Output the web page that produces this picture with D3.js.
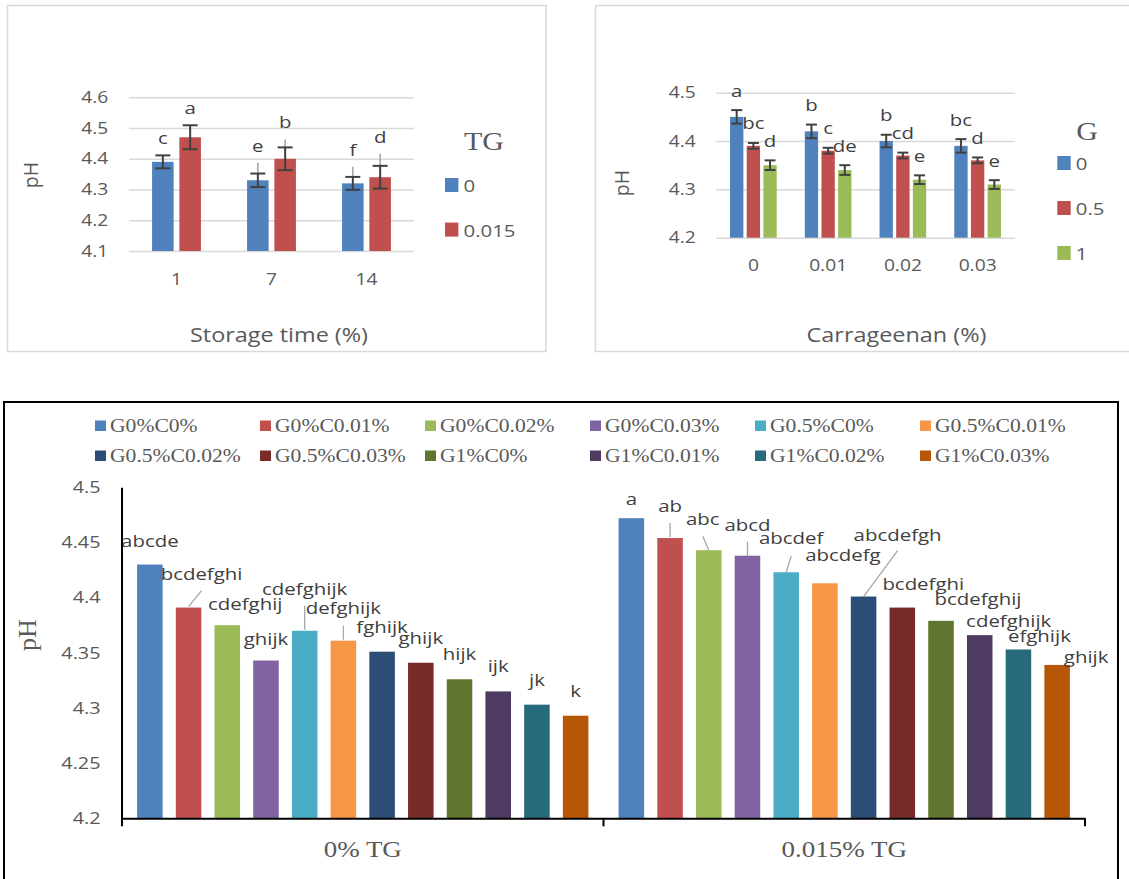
<!DOCTYPE html>
<html>
<head>
<meta charset="utf-8">
<script src="https://cdn.jsdelivr.net/npm/d3@7"></script>
<style>
  body { margin: 0; background: #fff; }
  svg { display: block; }
</style>
</head>
<body>
<svg id="fig"></svg>
<script>
// ---- top left: TG level by storage time
var days = ["1", "7", "14"];
var tgLevels = ["0", "0.015"];
var phTG0 = [4.39, 4.33, 4.32];
var phTG015 = [4.47, 4.40, 4.34];
var errTG0 = [0.021, 0.022, 0.021];
var errTG015 = [0.039, 0.037, 0.037];
var reachTG0 = [0.021, 0.057, 0.054];    // faint upper whisker
var reachTG015 = [0.039, 0.063, 0.076];
var letTG0 = ["c", "e", "f"];
var letTG015 = ["a", "b", "d"];
var ticksTL = [4.1, 4.2, 4.3, 4.4, 4.5, 4.6];

// ---- top right: G level by carrageenan
var carr = ["0", "0.01", "0.02", "0.03"];
var gLevels = ["0", "0.5", "1"];
var phG0 = [4.45, 4.42, 4.40, 4.39];
var phG05 = [4.39, 4.38, 4.37, 4.36];
var phG1 = [4.35, 4.34, 4.32, 4.31];
var errG0 = [0.014, 0.014, 0.013, 0.014];
var errG05 = [0.006, 0.006, 0.006, 0.006];
var errG1 = [0.010, 0.010, 0.009, 0.009];
var letG0 = ["a", "b", "b", "bc"];
var letG05 = ["bc", "c", "cd", "d"];
var letG1 = ["d", "de", "e", "e"];
var ticksTR = [4.2, 4.3, 4.4, 4.5];

// ---- bottom: all treatments
var treatments = ["G0%C0%", "G0%C0.01%", "G0%C0.02%", "G0%C0.03%", "G0.5%C0%", "G0.5%C0.01%",
                  "G0.5%C0.02%", "G0.5%C0.03%", "G1%C0%", "G1%C0.01%", "G1%C0.02%", "G1%C0.03%"];
var tgGroups = ["0% TG", "0.015% TG"];
var ph0 = [4.430, 4.391, 4.375, 4.343, 4.370, 4.361, 4.351, 4.341, 4.326, 4.315, 4.303, 4.293];
var ph015 = [4.472, 4.454, 4.443, 4.438, 4.423, 4.413, 4.401, 4.391, 4.379, 4.366, 4.353, 4.339];
var let0 = ["abcde", "bcdefghi", "cdefghij", "ghijk", "cdefghijk", "defghijk",
            "fghijk", "ghijk", "hijk", "ijk", "jk", "k"];
var let015 = ["a", "ab", "abc", "abcd", "abcdef", "abcdefg",
              "abcdefgh", "bcdefghi", "bcdefghij", "cdefghijk", "efghijk", "ghijk"];
var ticksB = [4.2, 4.25, 4.3, 4.35, 4.4, 4.45, 4.5];

var office = ["#4F81BD", "#C0504D", "#9BBB59", "#8064A2", "#4BACC6", "#F79646",
              "#2C4D75", "#772C2A", "#5F7530", "#4D3B62", "#276A7C", "#B65708"];

// label nudges [dx, dy] and leader lines [x1, y1, x2, y2] relative to bar top centre
var nudge0 = [[0, 1], [13, -9], [18, 4], [0, 3], [0, -17], [0, -8], [0, 0], [0, 0], [0, 0], [0, 0], [0, 0], [0, 0]];
var nudge015 = [[0, 6], [0, -7], [-6, -6], [0, -6], [5, -9], [18, -3], [34, -37], [21, 1], [37, 3], [29, 11], [21, 12], [29, 17]];
var leader0 = { 1: [0, -1, 13, -17], 4: [0, -1, 0, -25], 5: [0, -1, 0, -15] };
var leader015 = { 1: [0, -1, 0, -15], 2: [0, 0, -6, -14], 3: [0, 0, 0, -14], 4: [0, 0, 5, -16], 6: [0, 0, 34, -46] };

var sans = "'Open Sans', sans-serif",
    serif = "'Liberation Serif', 'Times New Roman', serif",
    grey = "#595959",
    dark = "#404040";

var svg = d3.select("#fig")
    .attr("width", 1129)
    .attr("height", 879);

// panel frames
svg.append("rect").attr("x", 7.5).attr("y", 5.5).attr("width", 538.5).attr("height", 346)
    .attr("fill", "none").attr("stroke", "#d9d9d9").attr("stroke-width", 1.5);
svg.append("rect").attr("x", 595.5).attr("y", 5.5).attr("width", 560).attr("height", 346)
    .attr("fill", "none").attr("stroke", "#d9d9d9").attr("stroke-width", 1.5);
svg.append("rect").attr("x", 4).attr("y", 402).attr("width", 1114).attr("height", 490)
    .attr("fill", "none").attr("stroke", "#000").attr("stroke-width", 2);

// small grouped bar panel with error bars
function panel(p) {
  var g = svg.append("g");
  var x = d3.scaleBand().domain(p.cats).range(p.xr);
  var xi = d3.scaleBand()
      .domain(p.series.map(function(s) { return s.name; }))
      .range([0, x.bandwidth()])
      .paddingInner(p.pin)
      .paddingOuter(p.pout);
  var y = d3.scaleLinear().domain(p.yd).range(p.yr);

  // gridlines + tick labels
  var ya = g.append("g")
      .attr("transform", "translate(" + p.xr[0] + ",0)")
      .call(d3.axisLeft(y).tickValues(p.ticks).tickSize(-(p.xr[1] - p.xr[0]))
        .tickPadding(p.ypad).tickFormat(d3.format("")));
  ya.select(".domain").remove();
  ya.selectAll("line").attr("stroke", "#d9d9d9").attr("stroke-width", 1.5);
  ya.selectAll("text").style("font-family", sans).style("font-size", "16px").attr("fill", grey);

  var xa = g.append("g")
      .attr("transform", "translate(0," + p.yr[0] + ")")
      .call(d3.axisBottom(x).tickSize(0).tickPadding(p.xpad));
  xa.select(".domain").remove();
  xa.selectAll("text").style("font-family", sans).style("font-size", "16px").attr("fill", grey);

  p.series.forEach(function(s) {
    var sg = g.append("g");
    sg.selectAll("rect")
      .data(s.vals)
      .enter().append("rect")
        .attr("x", function(d, i) { return x(p.cats[i]) + xi(s.name); })
        .attr("y", function(d) { return y(d); })
        .attr("width", xi.bandwidth())
        .attr("height", function(d) { return y(p.yd[0]) - y(d); })
        .attr("fill", s.color);

    s.vals.forEach(function(v, i) {
      var cx = x(p.cats[i]) + xi(s.name) + xi.bandwidth() / 2,
          e = s.err[i],
          reach = s.reach ? s.reach[i] : e;
      if (reach > e) {
        sg.append("line").attr("x1", cx).attr("x2", cx)
          .attr("y1", y(v + e)).attr("y2", y(v + reach))
          .attr("stroke", "#a0a0a0").attr("stroke-width", 1.5);
      }
      sg.append("line").attr("x1", cx).attr("x2", cx)
        .attr("y1", y(v - e)).attr("y2", y(v + e))
        .attr("stroke", dark).attr("stroke-width", 2);
      [v - e, v + e].forEach(function(c) {
        sg.append("line").attr("x1", cx - p.cap / 2).attr("x2", cx + p.cap / 2)
          .attr("y1", y(c)).attr("y2", y(c))
          .attr("stroke", dark).attr("stroke-width", 2);
      });
      sg.append("text")
        .attr("x", cx)
        .attr("y", y(v + Math.max(e, reach)) - p.gap)
        .attr("text-anchor", "middle")
        .style("font-family", sans).style("font-size", "17px")
        .attr("fill", dark)
        .text(s.letters[i]);
    });
  });

  // legend
  g.append("text").attr("x", p.leg.x + 19).attr("y", p.leg.titleY)
    .style("font-family", serif).style("font-size", "25px").attr("fill", grey)
    .text(p.leg.title);
  p.series.forEach(function(s, j) {
    var yy = p.leg.y0 + j * p.leg.dy;
    g.append("rect").attr("x", p.leg.x).attr("y", yy).attr("width", 13.4).attr("height", 14)
      .attr("fill", s.color);
    g.append("text").attr("x", p.leg.x + 18.5).attr("y", yy + 14)
      .style("font-family", sans).style("font-size", "17px").attr("fill", grey)
      .text(s.name);
  });

  // axis titles
  g.append("text").attr("x", (p.xr[0] + p.xr[1]) / 2 + p.titleDx).attr("y", 341.5)
    .attr("text-anchor", "middle")
    .style("font-family", sans).style("font-size", "19.5px").attr("fill", grey)
    .text(p.xTitle);
  g.append("text").attr("class", "rot")
    .attr("transform", "translate(" + p.pHx + "," + p.pHy + ") rotate(-90)")
    .attr("text-anchor", "middle")
    .style("font-family", sans).style("font-size", "19.5px").attr("fill", grey)
    .text("pH");
}

panel({
  cats: days, xr: [129, 414], pin: 0.21, pout: 0.845,
  yd: [4.1, 4.6], yr: [251, 97.3], ticks: ticksTL, ypad: 20.7, xpad: 23,
  cap: 15, gap: 11,
  series: [
    { name: tgLevels[0], vals: phTG0, err: errTG0, reach: reachTG0, letters: letTG0, color: office[0] },
    { name: tgLevels[1], vals: phTG015, err: errTG015, reach: reachTG015, letters: letTG015, color: office[1] }
  ],
  leg: { title: "TG", x: 445, titleY: 150, y0: 178, dy: 44.6 },
  xTitle: "Storage time (%)", titleDx: 7.5, pHx: 38, pHy: 175
});

panel({
  cats: carr, xr: [716, 1015], pin: 0.2, pout: 0.842,
  yd: [4.2, 4.5], yr: [237.7, 92.7], ticks: ticksTR, ypad: 20.3, xpad: 21.6,
  cap: 11, gap: 13.5,
  series: [
    { name: gLevels[0], vals: phG0, err: errG0, letters: letG0, color: office[0] },
    { name: gLevels[1], vals: phG05, err: errG05, letters: letG05, color: office[1] },
    { name: gLevels[2], vals: phG1, err: errG1, letters: letG1, color: office[2] }
  ],
  leg: { title: "G", x: 1057.3, titleY: 140, y0: 156, dy: 45 },
  xTitle: "Carrageenan (%)", titleDx: 31, pHx: 628.5, pHy: 183
});

// ---- bottom panel
var x0 = d3.scaleBand().domain(tgGroups).range([122, 1085]);
var x1 = d3.scaleBand().domain(treatments).range([0, x0.bandwidth()])
    .paddingInner(0.34).paddingOuter(0.39);
var yB = d3.scaleLinear().domain([4.2, 4.5]).range([818.3, 487.3]);

var bot = svg.append("g");

[ph0, ph015].forEach(function(vals, gi) {
  var grp = tgGroups[gi],
      letters = gi ? let015 : let0,
      nudge = gi ? nudge015 : nudge0,
      leaders = gi ? leader015 : leader0;

  bot.append("g").selectAll("rect")
    .data(vals)
    .enter().append("rect")
      .attr("x", function(d, i) { return x0(grp) + x1(treatments[i]); })
      .attr("y", function(d) { return yB(d); })
      .attr("width", x1.bandwidth())
      .attr("height", function(d) { return yB(4.2) - yB(d); })
      .attr("fill", function(d, i) { return office[i]; });

  vals.forEach(function(v, i) {
    var cx = x0(grp) + x1(treatments[i]) + x1.bandwidth() / 2,
        top = yB(v);
    if (leaders[i]) {
      var L = leaders[i];
      bot.append("line")
        .attr("x1", cx + L[0]).attr("y1", top + L[1])
        .attr("x2", cx + L[2]).attr("y2", top + L[3])
        .attr("stroke", "#a6a6a6").attr("stroke-width", 1.3);
    }
    bot.append("text")
      .attr("x", cx + nudge[i][0])
      .attr("y", top - 19 + nudge[i][1])
      .attr("text-anchor", "middle")
      .style("font-family", sans).style("font-size", "17px")
      .attr("fill", dark)
      .text(letters[i]);
  });
});

var yAxB = bot.append("g")
    .attr("transform", "translate(121.5,0)")
    .call(d3.axisLeft(yB).tickValues(ticksB).tickSize(0).tickSizeOuter(0)
      .tickPadding(21).tickFormat(d3.format("")));
yAxB.select(".domain").attr("stroke", "#000").attr("stroke-width", 2);
yAxB.selectAll("text").style("font-family", sans).style("font-size", "16.5px").attr("fill", grey);

var xAxB = bot.append("g")
    .attr("transform", "translate(0,818.3)")
    .call(d3.axisBottom(x0).tickSize(0).tickSizeOuter(0).tickPadding(22.5));
xAxB.select(".domain").attr("stroke", "#000").attr("stroke-width", 2);
xAxB.selectAll("text").style("font-family", serif).style("font-size", "22.5px").attr("fill", grey);

// category boundary ticks
xAxB.selectAll(".edge")
  .data([x0.range()[0], x0(tgGroups[1]), x0.range()[1]])
  .enter().append("line")
    .attr("class", "edge")
    .attr("x1", function(d) { return d; }).attr("x2", function(d) { return d; })
    .attr("y1", 0).attr("y2", 8)
    .attr("stroke", "#000").attr("stroke-width", 2);

bot.append("text").attr("class", "rot")
  .attr("transform", "translate(36,635) rotate(-90)")
  .attr("text-anchor", "middle")
  .style("font-family", serif).style("font-size", "26px").attr("fill", grey)
  .text("pH");

// legend, 2 rows x 6 columns
var leg = bot.append("g").selectAll("g")
    .data(treatments)
  .enter().append("g")
    .attr("transform", function(d, i) {
      return "translate(" + (95 + 165 * (i % 6)) + "," + (420.5 + 30 * Math.floor(i / 6)) + ")";
    });
leg.append("rect").attr("width", 11).attr("height", 10.5)
  .attr("fill", function(d, i) { return office[i]; });
leg.append("text").attr("x", 15).attr("y", 11.2)
  .style("font-family", serif).style("font-size", "18px").attr("fill", grey)
  .text(function(d) { return d; });

// the source figure is widened about 1.2x horizontally; widen the text to match
svg.selectAll("text:not(.rot)").each(function() {
  var w = this.getComputedTextLength();
  d3.select(this).attr("textLength", w * 1.2).attr("lengthAdjust", "spacingAndGlyphs");
});
</script>
</body>
</html>
